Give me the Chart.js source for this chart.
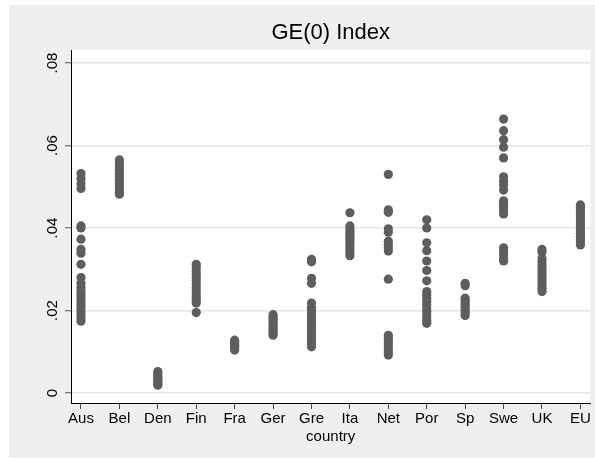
<!DOCTYPE html>
<html>
<head>
<meta charset="utf-8">
<script src="https://cdn.jsdelivr.net/npm/chart.js@4/dist/chart.umd.min.js"></script>
<style>
  html, body { margin: 0; padding: 0; background: #fff; }
  #wrap { width: 595px; height: 461px; }
</style>
</head>
<body>
<div id="wrap"><canvas id="myChart" width="595" height="461"></canvas></div>
<script>
const countries = ["Aus", "Bel", "Den", "Fin", "Fra", "Ger", "Gre", "Ita", "Net", "Por", "Sp", "Swe", "UK", "EU"];
const yTicks = [0, 0.02, 0.04, 0.06, 0.08];
const yTickLabels = ["0", ".02", ".04", ".06", ".08"];

// GE(0) values per country
const aus = [0.0532, 0.0520, 0.0508, 0.0496, 0.0405, 0.0400, 0.0373, 0.0348, 0.0339, 0.0312, 0.0280, 0.0266, 0.0256, 0.0246, 0.0238, 0.0230, 0.0222, 0.0214, 0.0206, 0.0198, 0.0190, 0.0182, 0.0174];
const bel = [0.0565, 0.0556, 0.0548, 0.0540, 0.0532, 0.0524, 0.0516, 0.0508, 0.0500, 0.0492, 0.0486, 0.0482];
const den = [0.0052, 0.0047, 0.0042, 0.0038, 0.0034, 0.0030, 0.0026, 0.0022, 0.0019];
const fin = [0.0312, 0.0304, 0.0296, 0.0288, 0.0280, 0.0272, 0.0264, 0.0256, 0.0248, 0.0240, 0.0232, 0.0225, 0.0218, 0.0195];
const fra = [0.0128, 0.0124, 0.0120, 0.0116, 0.0112, 0.0108, 0.0104];
const ger = [0.0190, 0.0185, 0.0180, 0.0175, 0.0170, 0.0165, 0.0160, 0.0155, 0.0150, 0.0145, 0.0140];
const gre = [0.0324, 0.0318, 0.0278, 0.0266, 0.0218, 0.0208, 0.0200, 0.0192, 0.0184, 0.0176, 0.0168, 0.0160, 0.0152, 0.0144, 0.0136, 0.0128, 0.0120, 0.0112];
const ita = [0.0437, 0.0405, 0.0398, 0.0392, 0.0386, 0.0380, 0.0374, 0.0368, 0.0362, 0.0355, 0.0347, 0.0340, 0.0333];
const net = [0.0530, 0.0444, 0.0438, 0.0398, 0.0390, 0.0368, 0.0360, 0.0352, 0.0344, 0.0276, 0.0140, 0.0133, 0.0126, 0.0119, 0.0112, 0.0105, 0.0098, 0.0092];
const por = [0.0420, 0.0400, 0.0364, 0.0345, 0.0320, 0.0297, 0.0272, 0.0246, 0.0238, 0.0230, 0.0222, 0.0214, 0.0206, 0.0198, 0.0190, 0.0182, 0.0175, 0.0169];
const sp = [0.0266, 0.0260, 0.0230, 0.0224, 0.0218, 0.0212, 0.0206, 0.0200, 0.0194, 0.0188];
const swe = [0.0664, 0.0636, 0.0614, 0.0596, 0.0570, 0.0524, 0.0514, 0.0504, 0.0492, 0.0466, 0.0458, 0.0450, 0.0442, 0.0434, 0.0352, 0.0344, 0.0336, 0.0326, 0.0320];
const uk = [0.0348, 0.0342, 0.0326, 0.0318, 0.0310, 0.0302, 0.0294, 0.0286, 0.0278, 0.0270, 0.0262, 0.0254, 0.0246];
const eu = [0.0456, 0.0450, 0.0443, 0.0436, 0.0429, 0.0422, 0.0415, 0.0408, 0.0401, 0.0394, 0.0387, 0.0380, 0.0373, 0.0366, 0.0359];

const seriesByCountry = [aus, bel, den, fin, fra, ger, gre, ita, net, por, sp, swe, uk, eu];

const FONT = "'Liberation Sans', Arial, Helvetica, sans-serif";

const datasets = seriesByCountry.map((vals, i) => ({
  label: countries[i],
  data: vals.map((v) => ({ x: i + 1, y: v })),
  backgroundColor: "#5e5e5e",
  borderWidth: 0,
  pointRadius: 4.6,
  pointHoverRadius: 4.6,
}));

/* background: white page, gray graph region, white plot region */
const backdrop = {
  id: "backdrop",
  beforeDraw(chart) {
    const { ctx, chartArea } = chart;
    ctx.save();
    ctx.fillStyle = "#ffffff";
    ctx.fillRect(0, 0, chart.width, chart.height);
    ctx.fillStyle = "#efefef";
    ctx.fillRect(9, 5, 586, 453);
    ctx.fillStyle = "#ffffff";
    ctx.fillRect(chartArea.left, chartArea.top, chartArea.right - chartArea.left, chartArea.bottom - chartArea.top);
    ctx.restore();
  },
};

/* vertical y tick labels, Stata style */
const yLabels = {
  id: "yLabels",
  afterDraw(chart) {
    const { ctx } = chart;
    const y = chart.scales.y;
    ctx.save();
    ctx.fillStyle = "#000";
    ctx.font = "15px " + FONT;
    ctx.textAlign = "center";
    ctx.textBaseline = "middle";
    yTicks.forEach((t, i) => {
      ctx.save();
      ctx.translate(53, y.getPixelForValue(t));
      ctx.rotate(-Math.PI / 2);
      ctx.fillText(yTickLabels[i], 0, 0);
      ctx.restore();
    });
    ctx.restore();
  },
};

new Chart(document.getElementById("myChart"), {
  type: "scatter",
  data: { datasets: datasets },
  options: {
    responsive: false,
    devicePixelRatio: 1,
    animation: false,
    layout: { padding: { left: 0, right: 3, top: 0, bottom: 0 } },
    plugins: {
      legend: { display: false },
      tooltip: { enabled: false },
      title: {
        display: true,
        fullSize: false,
        text: "GE(0) Index",
        color: "#000",
        font: { family: FONT, size: 22, weight: "normal" },
        padding: { top: 20, bottom: 3.6 },
      },
    },
    scales: {
      x: {
        type: "linear",
        min: 0.74,
        max: 14.26,
        afterBuildTicks: (scale) => {
          scale.ticks = countries.map((c, i) => ({ value: i + 1 }));
        },
        afterFit: (scale) => {
          scale.height = 58;
        },
        ticks: {
          autoSkip: false,
          maxRotation: 0,
          padding: 1,
          color: "#000",
          font: { family: FONT, size: 15 },
          callback: (v) => countries[v - 1],
        },
        grid: { drawOnChartArea: false, tickLength: 6, tickColor: "#444", tickWidth: 1 },
        border: { color: "#000", width: 1 },
        title: {
          display: true,
          text: "country",
          color: "#000",
          font: { family: FONT, size: 15 },
          padding: { top: 0, bottom: 15 },
        },
      },
      y: {
        type: "linear",
        min: -0.00242,
        max: 0.08315,
        afterBuildTicks: (scale) => {
          scale.ticks = yTicks.map((v) => ({ value: v }));
        },
        afterFit: (scale) => {
          scale.width = 71;
        },
        ticks: { display: false },
        grid: { color: "#e6e6e6", lineWidth: 1.5, tickLength: 6, tickColor: "#555", tickWidth: 1 },
        border: { color: "#000", width: 1 },
      },
    },
  },
  plugins: [backdrop, yLabels],
});
</script>
</body>
</html>
